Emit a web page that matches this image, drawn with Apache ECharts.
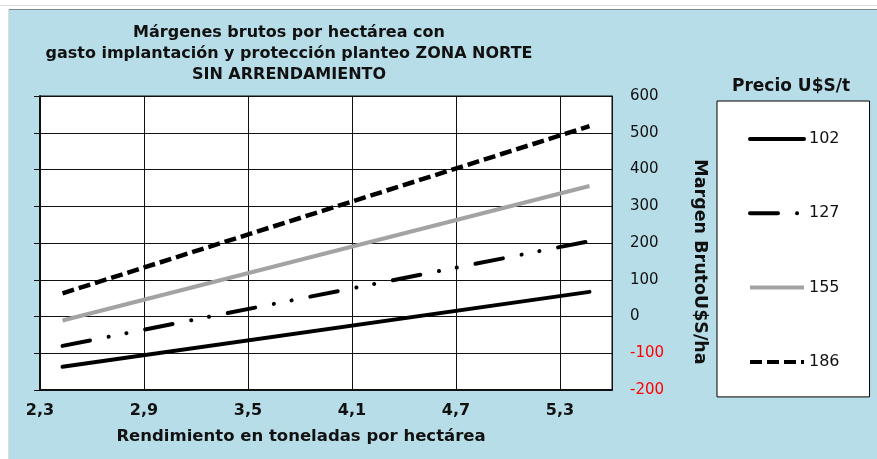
<!DOCTYPE html>
<html>
<head>
<meta charset="utf-8">
<script src="https://cdn.jsdelivr.net/npm/echarts@6/dist/echarts.min.js"></script>
<style>
html,body{margin:0;padding:0;background:#fff;}
#c{width:877px;height:459px;}
</style>
</head>
<body>
<div id="c"></div>
<script>
// ---- data ----
const yields = [2.43, 5.47];                 // t/ha (start and end of each line)
const m102 = [-137, 67];                     // U$S/ha at price 102
const m127 = [-80, 205];                     // price 127
const m155 = [-11, 355];                     // price 155
const m186 = [63, 518];                      // price 186
const priceNames = ['102', '127', '155', '186'];
const xTicks = [2.3, 2.9, 3.5, 4.1, 4.7, 5.3];
const yMin = -200, yMax = 600, yStep = 100;

const FONT = 'DejaVu Sans';
function pairs(ys) { return yields.map((x, i) => [x, ys[i]]); }

const chart = echarts.init(document.getElementById('c'), null, {renderer: 'canvas'});
chart.setOption({
  animation: false,
  backgroundColor: '#ffffff',
  textStyle: {fontFamily: FONT},
  graphic: {
    elements: [
      {type: 'rect', z: -100, shape: {x: 9, y: 9, width: 868, height: 450}, style: {fill: '#b7dde8'}},
      {type: 'line', z: -99, shape: {x1: 9, y1: 9.5, x2: 877, y2: 9.5}, style: {stroke: '#7a8a90', lineWidth: 1}},
      {type: 'line', z: -99, shape: {x1: 0, y1: 5.5, x2: 877, y2: 5.5}, style: {stroke: '#dddddd', lineWidth: 1}},
      {type: 'line', z: -99, shape: {x1: 8.5, y1: 9, x2: 8.5, y2: 459}, style: {stroke: '#dddddd', lineWidth: 1}}
    ]
  },
  title: [
    {
      text: 'Márgenes brutos por hectárea con\ngasto implantación y protección planteo ZONA NORTE\nSIN ARRENDAMIENTO',
      left: 284, top: 17, textAlign: 'center',
      textStyle: {fontFamily: FONT, fontSize: 16, fontWeight: 'bold', color: '#111', lineHeight: 21}
    },
    {
      text: 'Precio U$S/t',
      left: 786, top: 73, textAlign: 'center',
      textStyle: {fontFamily: FONT, fontSize: 17, fontWeight: 'bold', color: '#111'}
    }
  ],
  legend: {
    orient: 'vertical',
    left: 717, top: 101,
    padding: [30, 30, 27, 31],
    itemGap: 58.3,
    itemWidth: 54, itemHeight: 14,
    backgroundColor: '#ffffff',
    borderColor: '#000', borderWidth: 1, borderRadius: 0,
    itemStyle: {opacity: 0},
    lineStyle: {width: 4},
    textStyle: {fontFamily: FONT, fontSize: 16, color: '#111'},
    data: priceNames
  },
  grid: {
    left: 40, right: 265, top: 96, bottom: 69,
    show: true, backgroundColor: '#ffffff', borderColor: '#111', borderWidth: 1,
    containLabel: false
  },
  xAxis: {
    type: 'value', min: 2.3, max: 5.6,
    axisLine: {show: true, onZero: false, lineStyle: {color: '#111', width: 2}},
    axisTick: {show: false, customValues: xTicks},
    axisLabel: {
      customValues: xTicks, margin: 13,
      fontFamily: FONT, fontSize: 16, fontWeight: 'bold', color: '#111',
      formatter: v => v.toFixed(1).replace('.', ',')
    },
    splitLine: {show: true, lineStyle: {color: '#111', width: 1}},
    name: 'Rendimiento en toneladas por hectárea',
    nameLocation: 'middle', nameGap: 38,
    nameTextStyle: {fontFamily: FONT, fontSize: 16.5, fontWeight: 'bold', color: '#111', padding: [0, 50, 0, 0]}
  },
  yAxis: [
    {
      type: 'value', position: 'right', min: yMin, max: yMax, interval: yStep,
      axisLine: {show: true, lineStyle: {color: '#111', width: 1}},
      axisTick: {show: false},
      axisLabel: {
        margin: 18, fontFamily: FONT, fontSize: 15,
        color: v => (Number(v) < 0 ? '#ff0000' : '#111')
      },
      splitLine: {show: true, lineStyle: {color: '#111', width: 1}},
      name: 'Margen BrutoU$S/ha',
      nameLocation: 'middle', nameGap: 79, nameRotate: -90,
      nameTextStyle: {fontFamily: FONT, fontSize: 17.5, fontWeight: 'bold', color: '#111', padding: [0, 0, 0, 38]}
    },
    {
      type: 'value', position: 'left', min: yMin, max: yMax, interval: yStep,
      axisLine: {show: true, onZero: false, lineStyle: {color: '#111', width: 2}},
      axisTick: {show: true, inside: false, length: 6, lineStyle: {color: '#111', width: 1}},
      axisLabel: {show: false},
      splitLine: {show: false}
    }
  ],
  series: [
    {
      name: '102', type: 'line', data: pairs(m102), symbol: 'none', yAxisIndex: 0,
      lineStyle: {color: '#000', width: 4, type: 'solid', cap: 'round'},
      itemStyle: {color: '#000'}
    },
    {
      name: '127', type: 'line', data: pairs(m127), symbol: 'none', yAxisIndex: 0,
      lineStyle: {color: '#000', width: 4, type: [28, 19, 0.1, 18, 0.1, 19], cap: 'round'},
      itemStyle: {color: '#000'}
    },
    {
      name: '155', type: 'line', data: pairs(m155), symbol: 'none', yAxisIndex: 0,
      lineStyle: {color: '#a3a3a3', width: 4, type: 'solid', cap: 'butt'},
      itemStyle: {color: '#a3a3a3'}
    },
    {
      name: '186', type: 'line', data: pairs(m186), symbol: 'none', yAxisIndex: 0,
      lineStyle: {color: '#000', width: 4.5, type: [12, 5], cap: 'butt'},
      itemStyle: {color: '#000'}
    }
  ]
});
</script>
</body>
</html>
